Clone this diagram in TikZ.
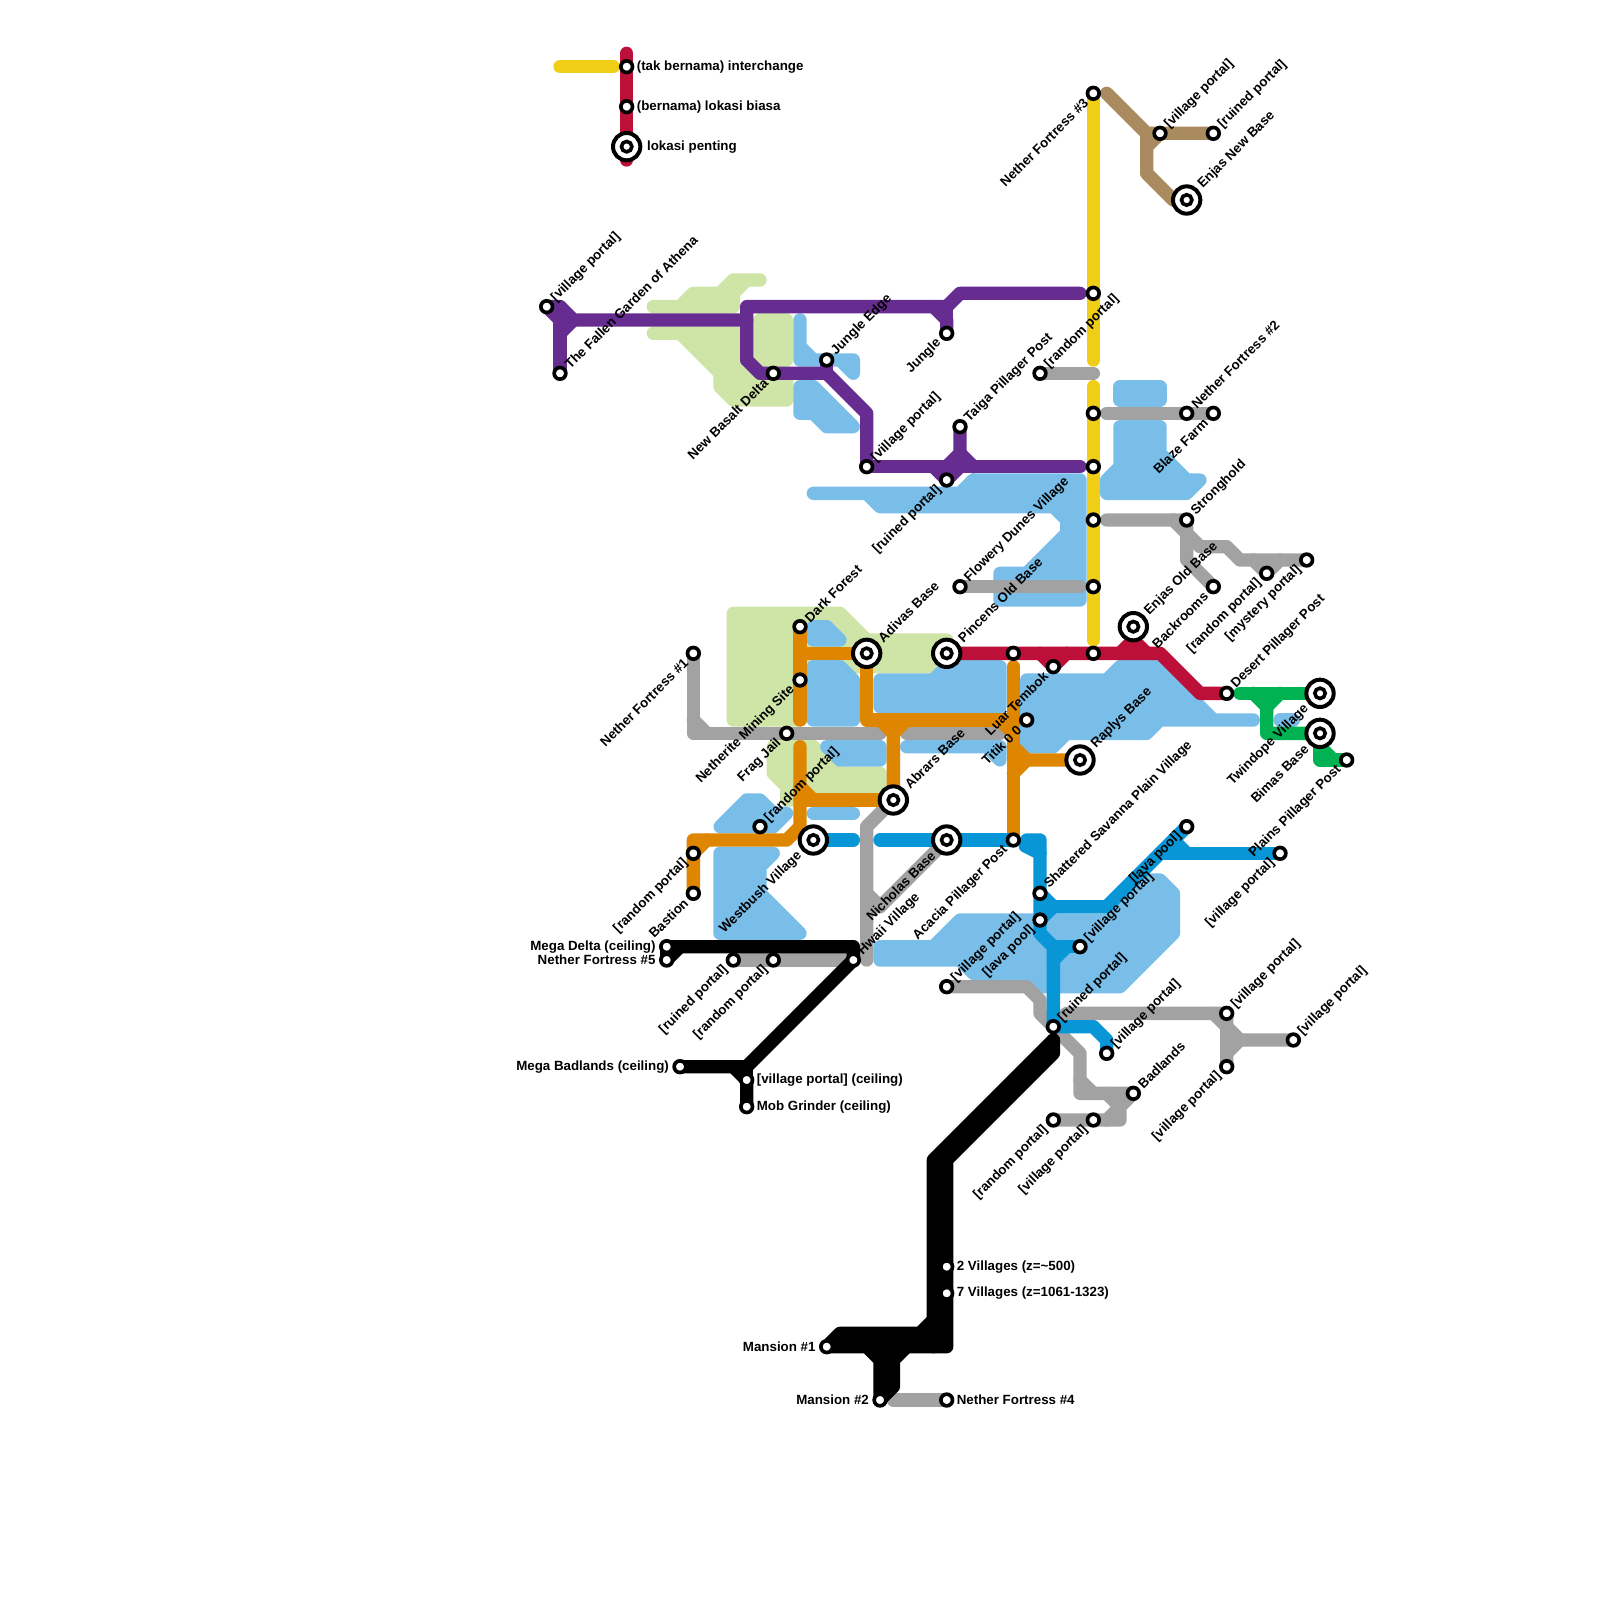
\documentclass[tikz,border=0pt]{standalone}
\usepackage{fontspec}
\setmainfont{Liberation Sans}
\definecolor{mapGray}{HTML}{A2A2A2}
\definecolor{mapYellow}{HTML}{F0CE15}
\definecolor{mapRed}{HTML}{BD1038}
\definecolor{mapPurple}{HTML}{662C90}
\definecolor{mapOrange}{HTML}{DF8600}
\definecolor{mapBlue}{HTML}{0896D7}
\definecolor{mapTan}{HTML}{AA8B5F}
\definecolor{mapGreen}{HTML}{00B251}
\definecolor{mapWater}{HTML}{79BDE9}
\definecolor{mapLand}{HTML}{CFE4A7}
\pgfdeclarelayer{regions}
\pgfdeclarelayer{routes}
\pgfsetlayers{regions,routes,main}
\tikzset{
  map region/.style={line width=0.2cm, line join=round, line cap=round},
  map water/.style={map region, draw=mapWater, fill=mapWater},
  map land/.style={map region, draw=mapLand, fill=mapLand},
  map route/.style={line width=0.2cm, line join=round, line cap=round},
  map off start/.style={shorten <=0.2cm},
  map off end/.style={shorten >=0.2cm},
  map stop/.style={circle, draw=black, fill=white, line width=0.055cm, minimum size=0.175cm, inner sep=0pt},
  map hub/.style={circle, draw=black, fill=white, line width=0.06cm, minimum size=0.41cm, inner sep=0pt,
    path picture={\draw[black, fill=white, line width=0.054cm] (path picture bounding box.center) circle (0.078cm);}},
  map text/.style={font=\bfseries\fontsize{5.69pt}{6pt}\selectfont, text=black, inner sep=0pt},
  map ne/.style={append after command={node[map text, shift={(0.5,-0.5)}, rotate=45, anchor=west] (\tikzlastnode-name) at (\tikzlastnode.center) {#1}}},
  map sw/.style={append after command={node[map text, shift={(-0.55,0.55)}, rotate=45, anchor=east] (\tikzlastnode-name) at (\tikzlastnode.center) {#1}}},
  map bigne/.style={append after command={node[map text, shift={(1,-1)}, rotate=45, anchor=west] (\tikzlastnode-name) at (\tikzlastnode.center) {#1}}},
  map bigsw/.style={append after command={node[map text, shift={(-1,1)}, rotate=45, anchor=east] (\tikzlastnode-name) at (\tikzlastnode.center) {#1}}},
  map east/.style={append after command={node[map text, xshift=0.145cm, anchor=west] (\tikzlastnode-name) at (\tikzlastnode.center) {#1}}},
  map west/.style={append after command={node[map text, xshift=-0.16cm, anchor=east] (\tikzlastnode-name) at (\tikzlastnode.center) {#1}}},
}
\begin{document}
\begin{tikzpicture}[x=0.2cm, y=-0.2cm]
  \useasboundingbox (0,0) rectangle (120,120);

  % Legend
  \node[map stop, map east={(tak bernama) interchange}] (legendLink) at (47,5) {};
  \node[map stop, map east={(bernama) lokasi biasa}] (legendStop) at (47,8) {};
  \node[map hub, append after command={node[map text, xshift=0.3cm, anchor=west] (legendHub-name) at (legendHub.center) {lokasi penting}}] (legendHub) at (47,11) {};

  % Stops, west side
  \node[map stop, map ne={[village portal]}] (purPortal) at (41,23) {};
  \node[map stop, map ne={The Fallen Garden of Athena}] (fallenGarden) at (42,28) {};
  \node[map stop, map sw={New Basalt Delta}] (basaltDelta) at (58,28) {};
  \node[map stop, map ne={Jungle Edge}] (jungleEdge) at (62,27) {};
  \node[map stop, map sw={Jungle}] (jungle) at (71,25) {};
  \node[map stop, map ne={[village portal]}] (purVillage) at (65,35) {};
  \node[map stop, map ne={Taiga Pillager Post}] (taigaPost) at (72,32) {};
  \node[map stop, map sw={[ruined portal]}] (purRuined) at (71,36) {};
  \node[map stop, map sw={Nether Fortress \#1}] (fortressOne) at (52,49) {};
  \node[map stop, map ne={Dark Forest}] (darkForest) at (60,47) {};
  \node[map stop, map sw={Netherite Mining Site}] (miningSite) at (60,51) {};
  \node[map stop, map sw={Frag Jail}] (fragJail) at (59,55) {};
  \node[map stop, map ne={[random portal]}] (oraRandom) at (57,62) {};
  \node[map stop, map sw={[random portal]}] (oraRandomTwo) at (52,64) {};
  \node[map stop, map sw={Bastion}] (bastion) at (52,67) {};
  \node[map hub, map bigne={Adivas Base}] (adivasBase) at (65,49) {};
  \node[map hub, map bigne={Pincens Old Base}] (pincensBase) at (71,49) {};
  \node[map hub, map bigne={Abrars Base}] (abrarsBase) at (67,60) {};
  \node[map hub, map bigsw={Westbush Village}] (westbush) at (61,63) {};
  \node[map hub, map bigsw={Nicholas Base}] (nicholasBase) at (71,63) {};
  \node[map stop, map sw={Acacia Pillager Post}] (acaciaPost) at (76,63) {};

  % Stops, north and east side
  \node[map stop, map sw={Nether Fortress \#3}] (fortressThree) at (82,7) {};
  \node[map stop] (yelPurple) at (82,22) {};
  \node[map stop] (yelFortress) at (82,31) {};
  \node[map stop] (yelPurpleTwo) at (82,35) {};
  \node[map stop] (yelStronghold) at (82,39) {};
  \node[map stop] (yelFlowery) at (82,44) {};
  \node[map stop] (yelRed) at (82,49) {};
  \node[map stop, map ne={[village portal]}] (tanVillage) at (87,10) {};
  \node[map stop, map ne={[ruined portal]}] (tanRuined) at (91,10) {};
  \node[map hub, map bigne={Enjas New Base}] (enjasNew) at (89,15) {};
  \node[map stop, map ne={[random portal]}] (grayRandom) at (78,28) {};
  \node[map stop, map ne={Nether Fortress \#2}] (fortressTwo) at (89,31) {};
  \node[map stop, map sw={Blaze Farm}] (blazeFarm) at (91,31) {};
  \node[map stop, map ne={Stronghold}] (stronghold) at (89,39) {};
  \node[map stop, map sw={Backrooms}] (backrooms) at (91,44) {};
  \node[map stop, map sw={[random portal]}] (grayRandomTwo) at (95,43) {};
  \node[map stop, map sw={[mystery portal]}] (mysteryPortal) at (98,42) {};
  \node[map stop, map ne={Flowery Dunes Village}] (floweryDunes) at (72,44) {};
  \node[map hub, map bigne={Enjas Old Base}] (enjasOld) at (85,47) {};
  \node[map stop] (redOrange) at (76,49) {};
  \node[map stop, map sw={Luar Tembok}] (luarTembok) at (79,50) {};
  \node[map stop, map ne={Desert Pillager Post}] (desertPost) at (92,52) {};
  \node[map stop, map sw={Titik 0 0}] (titikNol) at (77,54) {};
  \node[map hub, map bigne={Raplys Base}] (raplysBase) at (81,57) {};
  \node[map hub, map bigsw={Twindope Village}] (twindope) at (99,52) {};
  \node[map hub, map bigsw={Bimas Base}] (bimasBase) at (99,55) {};
  \node[map stop, map sw={Plains Pillager Post}] (plainsPost) at (101,57) {};

  % Stops, south side
  \node[map stop, map ne={Shattered Savanna Plain Village}] (savanna) at (78,67) {};
  \node[map stop, map sw={[lava pool]}] (lavaPool) at (78,69) {};
  \node[map stop, map ne={[village portal]}] (bluVillage) at (81,71) {};
  \node[map stop, map sw={[lava pool]}] (lavaPoolTwo) at (89,62) {};
  \node[map stop, map sw={[village portal]}] (bluVillageTwo) at (96,64) {};
  \node[map stop, map ne={[ruined portal]}] (bluRuined) at (79,77) {};
  \node[map stop, map ne={[village portal]}] (bluVillageThree) at (83,79) {};
  \node[map stop, map ne={[village portal]}] (grayVillage) at (71,74) {};
  \node[map stop, map ne={Badlands}] (badlands) at (85,82) {};
  \node[map stop, map sw={[random portal]}] (grayRandomThree) at (79,84) {};
  \node[map stop, map sw={[village portal]}] (grayVillageTwo) at (82,84) {};
  \node[map stop, map ne={[village portal]}] (grayVillageThree) at (92,76) {};
  \node[map stop, map sw={[village portal]}] (grayVillageFour) at (92,80) {};
  \node[map stop, map ne={[village portal]}] (grayVillageFive) at (97,78) {};
  \node[map stop, map west={Mega Delta (ceiling)}] (megaDelta) at (50,71) {};
  \node[map stop, map west={Nether Fortress \#5}] (fortressFive) at (50,72) {};
  \node[map stop, map sw={[ruined portal]}] (grayRuined) at (55,72) {};
  \node[map stop, map sw={[random portal]}] (grayRandomFour) at (58,72) {};
  \node[map stop, map ne={Hwaii Village}] (hwaiiVillage) at (64,72) {};
  \node[map stop, map west={Mega Badlands (ceiling)}] (megaBadlands) at (51,80) {};
  \node[map stop, map east={[village portal] (ceiling)}] (ceilingPortal) at (56,81) {};
  \node[map stop, map east={Mob Grinder (ceiling)}] (mobGrinder) at (56,83) {};
  \node[map stop, map east={2 Villages (z=\textasciitilde 500)}] (villagesTwo) at (71,95) {};
  \node[map stop, map east={7 Villages (z=1061-1323)}] (villagesSeven) at (71,97) {};
  \node[map stop, map west={Mansion \#1}] (mansionOne) at (62,101) {};
  \node[map stop, map west={Mansion \#2}] (mansionTwo) at (66,105) {};
  \node[map stop, map east={Nether Fortress \#4}] (fortressFour) at (71,105) {};

  \begin{pgfonlayer}{regions}
    \fill[white] (0,0) rectangle (120,120);

    % Green land
    \path[map land] (49,23) -- (51,23) -- (52,22) -- (54,22) -- (55,21) -- (57,21) -- (56,21) -- (55,22) -- (55,23) -- cycle;
    \path[map land] (49,25) -- (56,25) -- (56,28) -- (59,28) -- (59,30) -- (55,30) -- (54,29) -- (54,28) -- (51,25) -- cycle;
    \path[map land] (57,24) -- (59,24) -- (59,27) -- (57,27) -- cycle;
    \path[map land] (55,46) -- (63,46) -- (65,48) -- (71,48) -- (71,49) -- (70,50) -- (60,50) -- (60,54) -- (55,54) -- cycle;
    \path[map land] (58,56) -- (61,56) -- (63,58) -- (66,58) -- (66,60) -- (59,60) -- (59,59) -- (58,58) -- cycle;

    % Water
    \path[map water] (60,24) -- (60,27) -- (64,27) -- (64,28) -- (63,27) -- (61,27) -- (60,26) -- cycle;
    \path[map water] (60,29) -- (61,29) -- (64,32) -- (62,32) -- (61,31) -- (60,31) -- cycle;
    \path[map water] (61,37) -- (65,37) -- (66,38) -- (79,38) -- (80,39) -- (80,40) -- (77,43) -- (75,43) -- (75,45) -- (81,45) -- (81,36) -- (73,36) -- (72,37) -- cycle;
    \path[map water] (84,29) -- (87,29) -- (87,30) -- (84,30) -- cycle;
    \path[map water] (84,32) -- (87,32) -- (87,34) -- (89,36) -- (90,36) -- (89,37) -- (83,37) -- (83,36) -- (84,35) -- cycle;
    \path[map water] (61,47) -- (62,47) -- (63,48) -- (61,48) -- cycle;
    \path[map water] (61,50) -- (63,50) -- (64,51) -- (64,54) -- (61,54) -- cycle;
    \path[map water] (66,51) -- (70,51) -- (71,50) -- (75,50) -- (75,53) -- (66,53) -- cycle;
    \path[map water] (62,56) -- (66,56) -- (66,57) -- (63,57) -- cycle;
    \path[map water] (68,56) -- (75,56) -- (75,57) -- (74,56) -- cycle;
    \path[map water] (61,61) -- (64,61);
    \path[map water] (54,62) -- (56,60) -- (57,60) -- (58,61) -- (59,61) -- (58,62) -- cycle;
    \path[map water] (54,64) -- (58,64) -- (57,65) -- (57,67) -- (60,70) -- (54,70) -- cycle;
    \path[map water] (66,71) -- (70,71) -- (72,69) -- (83,69) -- (86,66) -- (87,66) -- (88,67) -- (88,70) -- (84,74) -- (78,74) -- (77,73) -- (73,73) -- (72,72) -- (66,72) -- cycle;
    \path[map water] (77,51) -- (83,51) -- (84,50) -- (87,50) -- (91,54) -- (94,54) -- (87,54) -- (86,55) -- (80,55) -- (79,56) -- (77,56) -- cycle;
    \path[map water] (96,54) -- (97,54);
  \end{pgfonlayer}

  \begin{pgfonlayer}{routes}
    % Gray
    \draw[map route, mapGray] (grayRandom.center) -- (82,28);
    \draw[map route, mapGray, map off start] (yelFortress.center) -- (fortressTwo.center) -- (blazeFarm.center);
    \draw[map route, mapGray, map off start] (yelStronghold.center) -- (stronghold.center) -- (89,40) -- (90,41) -- (92,41) -- (93,42) -- (mysteryPortal.center);
    \draw[map route, mapGray] (88,39) -- (89,40) -- (89,42) -- (backrooms.center);
    \draw[map route, mapGray] (94,42) -- (grayRandomTwo.center) -- (96,42);
    \draw[map route, mapGray, map off end] (floweryDunes.center) -- (yelFlowery.center);
    \draw[map route, mapGray] (fortressOne.center) -- (52,55) -- (66,55);
    \draw[map route, mapGray] (52,54) -- (53,55);
    \draw[map route, mapGray] (68,55) -- (75,55);
    \draw[map route, mapGray] (abrarsBase.center) -- (65,62) -- (65,72);
    \draw[map route, mapGray] (nicholasBase.center) -- (66,68) -- (65,68);
    \draw[map route, mapGray] (65,67) -- (66,68);
    \draw[map route, mapGray] (grayRuined.center) -- (hwaiiVillage.center);
    \draw[map route, mapGray] (grayVillage.center) -- (77,74) -- (78,75) -- (78,76) -- (81,79) -- (81,82) -- (badlands.center);
    \draw[map route, mapGray] (81,81) -- (82,82);
    \draw[map route, mapGray] (grayRandomThree.center) -- (84,84) -- (84,83) -- (badlands.center);
    \draw[map route, mapGray] (83,82) -- (84,83) -- (83,84);
    \draw[map route, mapGray] (bluRuined.center) -- (80,76) -- (grayVillageThree.center) -- (grayVillageFour.center);
    \draw[map route, mapGray] (91,76) -- (92,77) -- (93,78) -- (grayVillageFive.center);
    \draw[map route, mapGray] (93,78) -- (92,79);
    \draw[map route, mapGray, map off start] (mansionTwo.center) -- (fortressFour.center);

    % Tan
    \draw[map route, mapTan] (83,7) -- (86,10) -- (tanRuined.center);
    \draw[map route, mapTan] (86,10) -- (86,13) -- (88,15) -- (enjasNew.center);
    \draw[map route, mapTan] (tanVillage.center) -- (86,11);

    % Purple
    \draw[map route, mapPurple] (purPortal.center) -- (42,23) -- (43,24) -- (56,24) -- (56,27) -- (57,28) -- (basaltDelta.center) -- (62,28) -- (65,31) -- (purVillage.center);
    \draw[map route, mapPurple] (purPortal.center) -- (42,24);
    \draw[map route, mapPurple] (42,23) -- (fallenGarden.center);
    \draw[map route, mapPurple] (43,24) -- (42,25);
    \draw[map route, mapPurple] (56,24) -- (56,23) -- (71,23) -- (72,22) -- (81,22);
    \draw[map route, mapPurple] (70,23) -- (71,24) -- (jungle.center);
    \draw[map route, mapPurple] (71,23) -- (jungle.center);
    \draw[map route, mapPurple] (62,28) -- (jungleEdge.center);
    \draw[map route, mapPurple, map off end] (purVillage.center) -- (yelPurpleTwo.center);
    \draw[map route, mapPurple] (taigaPost.center) -- (72,34) -- (71,35);
    \draw[map route, mapPurple] (72,34) -- (73,35);
    \draw[map route, mapPurple] (70,35) -- (purRuined.center) -- (72,35);

    % Yellow
    \draw[map route, mapYellow, map off end] (42,5) -- (legendLink.center);
    \draw[map route, mapYellow] (fortressThree.center) -- (82,27);
    \draw[map route, mapYellow, map off end] (82,29) -- (yelRed.center);

    % Red
    \draw[map route, mapRed] (47,4) -- (47,12);
    \draw[map route, mapRed] (pincensBase.center) -- (87,49) -- (90,52) -- (desertPost.center);
    \draw[map route, mapRed] (78,49) -- (luarTembok.center) -- (80,49);
    \draw[map route, mapRed] (84,49) -- (85,48) -- (86,49);
    \draw[map route, mapRed] (enjasOld.center) -- (85,48);

    % Green
    \draw[map route, mapGreen, map off start] (desertPost.center) -- (twindope.center);
    \draw[map route, mapGreen] (94,52) -- (95,53) -- (95,55) -- (bimasBase.center);
    \draw[map route, mapGreen] (95,53) -- (96,52);
    \draw[map route, mapGreen] (bimasBase.center) -- (99,57) -- (plainsPost.center);
    \draw[map route, mapGreen] (99,56) -- (100,57);

    % Orange
    \draw[map route, mapOrange] (darkForest.center) -- (60,54);
    \draw[map route, mapOrange] (60,49) -- (adivasBase.center) -- (65,54) -- (76,54);
    \draw[map route, mapOrange] (75,54) -- (76,55);
    \draw[map route, mapOrange] (abrarsBase.center) -- (67,55) -- (66,54);
    \draw[map route, mapOrange] (67,55) -- (68,54);
    \draw[map route, mapOrange] (60,56) -- (60,62) -- (59,63) -- (52,63) -- (bastion.center);
    \draw[map route, mapOrange] (53,63) -- (oraRandomTwo.center);
    \draw[map route, mapOrange] (60,59) -- (61,60);
    \draw[map route, mapOrange] (60,60) -- (abrarsBase.center);
    \draw[map route, mapOrange, map off start] (redOrange.center) -- (acaciaPost.center);
    \draw[map route, mapOrange] (76,56) -- (77,57) -- (raplysBase.center);
    \draw[map route, mapOrange] (76,58) -- (77,57);

    % Blue
    \draw[map route, mapBlue] (westbush.center) -- (64,63);
    \draw[map route, mapBlue] (66,63) -- (acaciaPost.center);
    \draw[map route, mapBlue, map off start] (acaciaPost.center) -- (78,63) -- (78,70) -- (79,71) -- (bluRuined.center) -- (82,77) -- (83,78) -- (bluVillageThree.center);
    \draw[map route, mapBlue, map off start] (acaciaPost.center) -- (78,64);
    \draw[map route, mapBlue] (79,71) -- (bluVillage.center);
    \draw[map route, mapBlue] (80,71) -- (79,72);
    \draw[map route, mapBlue] (savanna.center) -- (79,68) -- (83,68) -- (lavaPoolTwo.center);
    \draw[map route, mapBlue] (lavaPool.center) -- (79,68);
    \draw[map route, mapBlue] (87,64) -- (bluVillageTwo.center);
    \draw[map route, mapBlue] (88,63) -- (89,64);

    % Black
    \draw[map route, black] (megaDelta.center) -- (64,71) -- (hwaiiVillage.center) -- (56,80) -- (megaBadlands.center);
    \draw[map route, black] (megaDelta.center) -- (fortressFive.center) -- (51,71);
    \draw[map route, black] (55,80) -- (ceilingPortal.center) -- (mobGrinder.center);
    \draw[map route, black] (56,80) -- (ceilingPortal.center);

    % Black, double width: the middle paths close the seams
    \draw[map route, black] (79,78) -- (79,79) -- (71,87) -- (71,101) -- (mansionOne.center);
    \draw[map route, black] (79,78) -- (70,87) -- (70,101);
    \draw[map route, black] (78.75,78.75) -- (70.5,87) -- (70.5,100.5) -- (64,100.5);
    \draw[map route, black] (70,99) -- (69,100) -- (63,100) -- (mansionOne.center);
    \draw[map route, black] (65,101) -- (66,102) -- (mansionTwo.center);
    \draw[map route, black] (68,101) -- (67,102) -- (67,104) -- (mansionTwo.center);
    \draw[map route, black] (66.5,101) -- (66.5,104);
  \end{pgfonlayer}
\end{tikzpicture}
\end{document}
